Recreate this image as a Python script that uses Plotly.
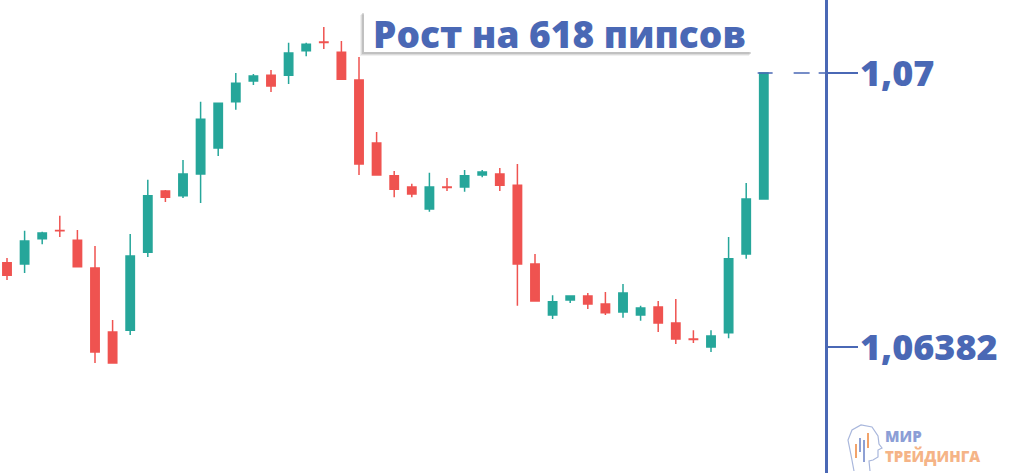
import plotly.graph_objects as go

# ---- data (EURUSD-like prices) ----
opens = [1.06572, 1.06569, 1.06626, 1.06645, 1.06623, 1.06560, 1.06416, 1.06420, 1.06596, 1.06734,
         1.06723, 1.06772, 1.06831, 1.06935, 1.06982, 1.06995, 1.06995, 1.07050, 1.07070, 1.07047,
         1.06984, 1.06842, 1.06768, 1.06743, 1.06693, 1.06743, 1.06743, 1.06770, 1.06772, 1.06747,
         1.06569, 1.06454, 1.06488, 1.06497, 1.06479, 1.06461, 1.06454, 1.06472, 1.06436, 1.06400,
         1.06382, 1.06414, 1.06592, 1.06716]
highs = [1.06583, 1.06644, 1.06642, 1.06678, 1.06646, 1.06610, 1.06443, 1.06637, 1.06759, 1.06736,
         1.06804, 1.06935, 1.06932, 1.07000, 1.06998, 1.07007, 1.07068, 1.07068, 1.07104, 1.07072,
         1.07036, 1.06867, 1.06779, 1.06750, 1.06775, 1.06763, 1.06781, 1.06781, 1.06786, 1.06795,
         1.06592, 1.06499, 1.06499, 1.06504, 1.06506, 1.06524, 1.06475, 1.06486, 1.06490, 1.06420,
         1.06420, 1.06630, 1.06752, 1.07000]
lows = [1.06533, 1.06549, 1.06614, 1.06630, 1.06563, 1.06346, 1.06344, 1.06409, 1.06585, 1.06709,
        1.06718, 1.06707, 1.06813, 1.06917, 1.06973, 1.06957, 1.06975, 1.07038, 1.07054, 1.06986,
        1.06770, 1.06770, 1.06720, 1.06720, 1.06687, 1.06734, 1.06732, 1.06765, 1.06734, 1.06475,
        1.06486, 1.06445, 1.06481, 1.06468, 1.06454, 1.06448, 1.06441, 1.06416, 1.06389, 1.06391,
        1.06371, 1.06402, 1.06581, 1.06716]
closes = [1.06544, 1.06621, 1.06639, 1.06644, 1.06563, 1.06371, 1.06346, 1.06587, 1.06723, 1.06720,
          1.06772, 1.06896, 1.06932, 1.06977, 1.06993, 1.06971, 1.07045, 1.07065, 1.07069, 1.06986,
          1.06795, 1.06770, 1.06738, 1.06727, 1.06743, 1.06742, 1.06768, 1.06777, 1.06747, 1.06569,
          1.06486, 1.06484, 1.06497, 1.06479, 1.06459, 1.06504, 1.06470, 1.06436, 1.06400, 1.06399,
          1.06407, 1.06581, 1.06716, 1.07000]

level_high = 1.07
level_low = 1.06382
tick_vals = [level_high, level_low]
tick_text = ["1,07", "1,06382"]
title_text = "Рост на 618 пипсов"
logo_top = "МИР"
logo_bottom = "ТРЕЙДИНГА"

# ---- layout geometry ----
W, H = 1024, 473
PLOT_W = 825
X_MIN, X_MAX = -0.398, 46.477
Y_MIN, Y_MAX = 1.060978, 1.071647

BLUE = "#4a68b5"
GREEN = "#26a69a"
RED = "#ef5350"

n = len(opens)
idx = list(range(n))


def px(x):
    return x / PLOT_W


def py(y):
    return 1 - y / H


fig = go.Figure()
fig.add_trace(go.Candlestick(
    x=idx, open=opens, high=highs, low=lows, close=closes,
    increasing=dict(line=dict(color=GREEN, width=1.5), fillcolor=GREEN),
    decreasing=dict(line=dict(color=RED, width=1.5), fillcolor=RED),
    whiskerwidth=0, hoverinfo="skip", showlegend=False,
))

# dashed level line from the last close to the axis
fig.add_trace(go.Scatter(
    x=[idx[-1] - 0.35, X_MAX], y=[closes[-1], closes[-1]], mode="lines",
    line=dict(color=BLUE, width=1.5, dash="15px,21px,16px,9px"),
    hoverinfo="skip", showlegend=False,
))

shapes = []
# title box shadow (soft)
for off, alpha in [(4, 0.10), (3, 0.15), (2, 0.25)]:
    shapes.append(dict(type="rect", xref="paper", yref="paper",
                       x0=px(364 - off), x1=px(752 - off + 1), y0=py(52 + off), y1=py(12 + off - 1),
                       fillcolor=f"rgba(110,110,110,{alpha})", line=dict(width=0), layer="above"))
shapes.append(dict(type="rect", xref="paper", yref="paper",
                   x0=px(364), x1=px(752), y0=py(52), y1=py(12),
                   fillcolor="white", line=dict(width=0), layer="above"))

# logo: head outline
head = [(854, 471), (851, 455), (848, 440), (852, 430), (861, 425), (872, 427), (878, 436),
        (879, 444), (882, 448), (878, 450), (878, 457), (873, 460), (869, 461), (870, 471)]
path = "M " + " L ".join(f"{px(a):.5f},{py(b):.5f}" for a, b in head)
shapes.append(dict(type="path", xref="paper", yref="paper", path=path,
                   line=dict(color="#a9b7dc", width=1.2), layer="above"))
for a, b0, b1, c in [(856, 444, 458, "#f2a36b"), (860, 438, 452, "#8ea0d4"),
                     (864, 440, 462, "#8ea0d4"), (868, 433, 448, "#f2a36b")]:
    shapes.append(dict(type="line", xref="paper", yref="paper",
                       x0=px(a), x1=px(a), y0=py(b0), y1=py(b1),
                       line=dict(color=c, width=2), layer="above"))

annotations = [
    dict(text=title_text, xref="paper", yref="paper",
         x=px(559), y=py(33), xanchor="center", yanchor="middle", showarrow=False,
         font=dict(family="Open Sans", size=37, color=BLUE, weight=800)),
    dict(text=(f"<span style='color:#8c9ed6'>{logo_top}</span><br>"
               f"<span style='color:#f5b487'>{logo_bottom}</span>"),
         xref="paper", yref="paper", x=px(883), y=py(446), align="left",
         xanchor="left", yanchor="middle", showarrow=False,
         font=dict(family="Open Sans", size=15, color="#8c9ed6", weight=800)),
]

fig.update_layout(
    width=W, height=H,
    margin=dict(l=0, r=W - PLOT_W, t=0, b=0),
    paper_bgcolor="white", plot_bgcolor="white",
    boxgap=0.32,
    shapes=shapes, annotations=annotations,
    xaxis=dict(range=[X_MIN, X_MAX], visible=False, rangeslider=dict(visible=False),
               fixedrange=True),
    yaxis=dict(range=[Y_MIN, Y_MAX], side="right", showgrid=False, zeroline=False,
               showline=True, linecolor=BLUE, linewidth=2.5,
               ticks="outside", ticklen=30, tickwidth=2, tickcolor=BLUE,
               tickvals=tick_vals, ticktext=tick_text, ticklabelstandoff=-5,
               tickfont=dict(family="Open Sans", size=36, color=BLUE, weight=800),
               fixedrange=True),
)

fig.write_html("out.html", config={"displayModeBar": False},
               post_script="document.body.style.margin='0px';document.body.style.padding='0px';")
